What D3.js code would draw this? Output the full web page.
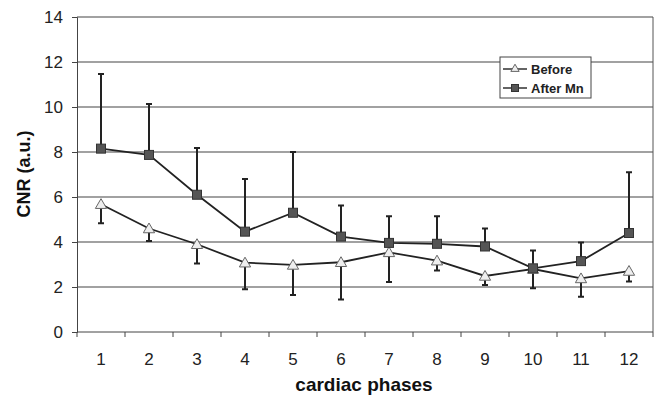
<!DOCTYPE html>
<html>
<head>
<meta charset="utf-8">
<script src="https://cdn.jsdelivr.net/npm/d3@7"></script>
<style>
  body { margin: 0; background: #fff; }
  svg { display: block; font-family: Arial, "Liberation Sans", sans-serif; }
</style>
</head>
<body>
<div id="chart"></div>
<script>
const phases = ["1", "2", "3", "4", "5", "6", "7", "8", "9", "10", "11", "12"];
const beforeMean = [5.68, 4.6, 3.9, 3.08, 2.98, 3.1, 3.54, 3.17, 2.49, 2.8, 2.38, 2.71];
const beforeLow = [4.83, 4.04, 3.05, 1.9, 1.64, 1.45, 2.22, 2.73, 2.09, 1.94, 1.57, 2.24];
const afterMean = [8.15, 7.87, 6.1, 4.46, 5.3, 4.24, 3.96, 3.92, 3.8, 2.83, 3.15, 4.4];
const afterHigh = [11.47, 10.13, 8.18, 6.8, 8.0, 5.62, 5.15, 5.15, 4.6, 3.62, 3.98, 7.1];
const yTicks = [0, 2, 4, 6, 8, 10, 12, 14];

const width = 657, height = 395;
const margin = { top: 17, right: 4, bottom: 63, left: 77 };
const innerW = width - margin.left - margin.right;
const innerH = height - margin.top - margin.bottom;

const svg = d3.select("#chart").append("svg")
  .attr("width", width).attr("height", height);
const g = svg.append("g").attr("transform", `translate(${margin.left},${margin.top})`);

const x = d3.scaleBand().domain(phases).range([0, innerW]);
const y = d3.scaleLinear().domain([0, 14]).range([innerH, 0]);
const cx = i => x(phases[i]) + x.bandwidth() / 2;

// gridlines
g.selectAll(".grid").data(yTicks.slice(1)).enter().append("line")
  .attr("x1", 0).attr("x2", innerW)
  .attr("y1", d => y(d)).attr("y2", d => y(d))
  .attr("stroke", "#444").attr("stroke-width", 1.2);

// right border
g.append("line").attr("x1", innerW).attr("x2", innerW)
  .attr("y1", 0).attr("y2", innerH).attr("stroke", "#555");

// y axis
const yAxisG = g.append("g").call(d3.axisLeft(y).tickValues(yTicks).tickSize(5).tickPadding(9));
yAxisG.select(".domain").attr("stroke", "#444");
yAxisG.selectAll(".tick line").attr("stroke", "#444");
yAxisG.selectAll("text").attr("font-size", 17).attr("fill", "#222");

// x axis, ticks between categories
const xAxisG = g.append("g").attr("transform", `translate(0,${innerH})`);
xAxisG.append("line").attr("x1", 0).attr("x2", innerW).attr("stroke", "#444");
xAxisG.selectAll(".xt").data(d3.range(phases.length + 1)).enter().append("line")
  .attr("x1", i => i * x.bandwidth()).attr("x2", i => i * x.bandwidth())
  .attr("y1", 0).attr("y2", 5).attr("stroke", "#444");
xAxisG.selectAll(".xl").data(phases).enter().append("text")
  .attr("x", d => x(d) + x.bandwidth() / 2).attr("y", 33)
  .attr("text-anchor", "middle").attr("font-size", 17).attr("fill", "#222")
  .text(d => d);

// titles
svg.append("text").attr("x", 364).attr("y", 391)
  .attr("text-anchor", "middle").attr("font-size", 19).attr("font-weight", "bold")
  .attr("fill", "#111").text("cardiac phases");
svg.append("text").attr("transform", `translate(30,174) rotate(-90)`)
  .attr("text-anchor", "middle").attr("font-size", 18).attr("font-weight", "bold")
  .attr("fill", "#111").text("CNR (a.u.)");

const idx = d3.range(phases.length);
const line = arr => d3.line().x(i => cx(i)).y(i => y(arr[i]));
const cap = 3;

// error bars: Before downward
g.selectAll(".eb").data(idx).enter().append("path")
  .attr("d", i => `M${cx(i)},${y(beforeMean[i])}V${y(beforeLow[i])}M${cx(i) - cap},${y(beforeLow[i])}H${cx(i) + cap}`)
  .attr("stroke", "#222").attr("stroke-width", 2).attr("fill", "none");
// error bars: After Mn upward
g.selectAll(".ea").data(idx).enter().append("path")
  .attr("d", i => `M${cx(i)},${y(afterMean[i])}V${y(afterHigh[i])}M${cx(i) - cap},${y(afterHigh[i])}H${cx(i) + cap}`)
  .attr("stroke", "#222").attr("stroke-width", 2).attr("fill", "none");

// lines
g.append("path").datum(idx).attr("d", line(beforeMean))
  .attr("fill", "none").attr("stroke", "#222").attr("stroke-width", 1.8);
g.append("path").datum(idx).attr("d", line(afterMean))
  .attr("fill", "none").attr("stroke", "#222").attr("stroke-width", 1.8);

// markers
const tri = d3.symbol().type(d3.symbolTriangle).size(55);
g.selectAll(".mb").data(idx).enter().append("path")
  .attr("transform", i => `translate(${cx(i)},${y(beforeMean[i]) + 1})`)
  .attr("d", tri).attr("fill", "#eee").attr("stroke", "#666").attr("stroke-width", 1);
g.selectAll(".ma").data(idx).enter().append("rect")
  .attr("x", i => cx(i) - 4.5).attr("y", i => y(afterMean[i]) - 4.5)
  .attr("width", 9).attr("height", 9)
  .attr("fill", "#555").attr("stroke", "#333").attr("stroke-width", 1);

// legend
const lg = svg.append("g").attr("transform", "translate(500,57)");
lg.append("rect").attr("width", 91).attr("height", 41)
  .attr("fill", "#fff").attr("stroke", "#444");
const items = [
  { name: "Before", y: 12, marker: "tri" },
  { name: "After Mn", y: 31, marker: "sq" }
];
items.forEach(it => {
  lg.append("line").attr("x1", 3).attr("x2", 27).attr("y1", it.y).attr("y2", it.y)
    .attr("stroke", "#222").attr("stroke-width", 1.4);
  if (it.marker === "tri") {
    lg.append("path").attr("transform", `translate(15,${it.y})`)
      .attr("d", d3.symbol().type(d3.symbolTriangle).size(30))
      .attr("fill", "#eee").attr("stroke", "#666");
  } else {
    lg.append("rect").attr("x", 11.5).attr("y", it.y - 3.5).attr("width", 7).attr("height", 7)
      .attr("fill", "#555").attr("stroke", "#333");
  }
  lg.append("text").attr("x", 31).attr("y", it.y + 4.5)
    .attr("font-size", 13).attr("font-weight", "bold").attr("fill", "#222")
    .text(it.name);
});
</script>
</body>
</html>
